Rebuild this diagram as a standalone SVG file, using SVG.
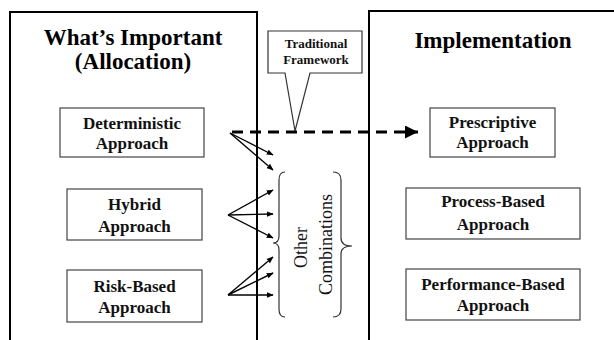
<svg xmlns="http://www.w3.org/2000/svg" width="614" height="340" viewBox="0 0 614 340">
  <defs>
    <style>
      .panel { fill: none; stroke: #000; stroke-width: 2; }
      .node { fill: #fff; stroke: #444; stroke-width: 1.2; }
      .title { font-family: "Liberation Serif", "Times New Roman", serif; font-weight: bold; font-size: 23px; fill: #000; text-anchor: middle; }
      .label { font-family: "Liberation Serif", "Times New Roman", serif; font-weight: bold; font-size: 17px; fill: #111; text-anchor: middle; }
      .small { font-family: "Liberation Serif", "Times New Roman", serif; font-weight: bold; font-size: 13px; fill: #111; text-anchor: middle; }
      .brace-text { font-family: "Liberation Serif", "Times New Roman", serif; font-size: 18px; fill: #111; text-anchor: middle; }
      .link { fill: none; stroke: #000; stroke-width: 1.4; }
      .dash { fill: none; stroke: #000; stroke-width: 3; stroke-dasharray: 11 7; }
      .brace { fill: none; stroke: #333; stroke-width: 1.2; }
    </style>
    <marker id="head" viewBox="0 0 10 10" refX="9" refY="5" markerWidth="7" markerHeight="7" markerUnits="userSpaceOnUse" orient="auto">
      <path d="M0,1 L10,5 L0,9 Z" fill="#000"/>
    </marker>
    <marker id="bigHead" viewBox="0 0 10 10" refX="10" refY="5" markerWidth="15" markerHeight="13" markerUnits="userSpaceOnUse" orient="auto">
      <path d="M0,0 L10,5 L0,10 Z" fill="#000"/>
    </marker>
  </defs>

  <rect width="614" height="340" fill="#fff"/>

  <!-- left panel: allocation -->
  <g id="panel-allocation">
    <path class="panel" d="M10,341 V12 H257 V341"/>
    <text class="title" x="133" y="45">What’s Important</text>
    <text class="title" x="133" y="69">(Allocation)</text>
  </g>

  <!-- right panel: implementation -->
  <g id="panel-implementation">
    <path class="panel" d="M369,341 V11 H615"/>
    <text class="title" x="493" y="48">Implementation</text>
  </g>

  <!-- callout -->
  <g id="traditional-framework">
    <path d="M268,31 H362 V73 H310 L295,131 L285,73 H268 Z" fill="#fff" stroke="#333" stroke-width="1.2"/>
    <text class="small" x="316" y="48">Traditional</text>
    <text class="small" x="316" y="64">Framework</text>
  </g>

  <!-- allocation approaches -->
  <g id="deterministic">
    <rect class="node" x="60" y="108" width="144" height="49"/>
    <text class="label" x="132" y="129">Deterministic</text>
    <text class="label" x="132" y="149">Approach</text>
  </g>
  <g id="hybrid">
    <rect class="node" x="67" y="189" width="135" height="51"/>
    <text class="label" x="134.5" y="210">Hybrid</text>
    <text class="label" x="134.5" y="232">Approach</text>
  </g>
  <g id="risk-based">
    <rect class="node" x="67" y="270" width="135" height="52"/>
    <text class="label" x="134.5" y="292">Risk-Based</text>
    <text class="label" x="134.5" y="313">Approach</text>
  </g>

  <!-- implementation approaches -->
  <g id="prescriptive">
    <rect class="node" x="430" y="108" width="125" height="49"/>
    <text class="label" x="492.5" y="128">Prescriptive</text>
    <text class="label" x="492.5" y="148">Approach</text>
  </g>
  <g id="process-based">
    <rect class="node" x="406" y="188" width="174" height="51"/>
    <text class="label" x="493" y="207">Process-Based</text>
    <text class="label" x="493" y="230">Approach</text>
  </g>
  <g id="performance-based">
    <rect class="node" x="406" y="269" width="174" height="51"/>
    <text class="label" x="493" y="290">Performance-Based</text>
    <text class="label" x="493" y="311">Approach</text>
  </g>

  <!-- other combinations -->
  <g id="other-combinations">
    <path class="brace" d="M285,172 Q279,172 279,180 V236 Q279,243 273,243 Q279,243 279,250 V309 Q279,317 285,317"/>
    <path class="brace" d="M333,172 Q341,172 341,180 V238 Q341,246 352,246 Q341,246 341,254 V309 Q341,317 333,317"/>
    <text class="brace-text" transform="translate(307,247.5) rotate(-90)">Other</text>
    <text class="brace-text" transform="translate(332,244.5) rotate(-90)">Combinations</text>
  </g>

  <!-- connectors -->
  <g id="connectors">
    <path class="dash" d="M232,132 H418" marker-end="url(#bigHead)"/>
    <line class="link" x1="230" y1="133" x2="273" y2="155" marker-end="url(#head)"/>
    <line class="link" x1="230" y1="133" x2="273" y2="170" marker-end="url(#head)"/>
    <line class="link" x1="228" y1="215" x2="273" y2="190" marker-end="url(#head)"/>
    <line class="link" x1="228" y1="215" x2="273" y2="214" marker-end="url(#head)"/>
    <line class="link" x1="228" y1="215" x2="273" y2="238" marker-end="url(#head)"/>
    <line class="link" x1="228" y1="295" x2="273" y2="257" marker-end="url(#head)"/>
    <line class="link" x1="228" y1="295" x2="273" y2="273" marker-end="url(#head)"/>
    <line class="link" x1="228" y1="295" x2="273" y2="295" marker-end="url(#head)"/>
  </g>
</svg>
